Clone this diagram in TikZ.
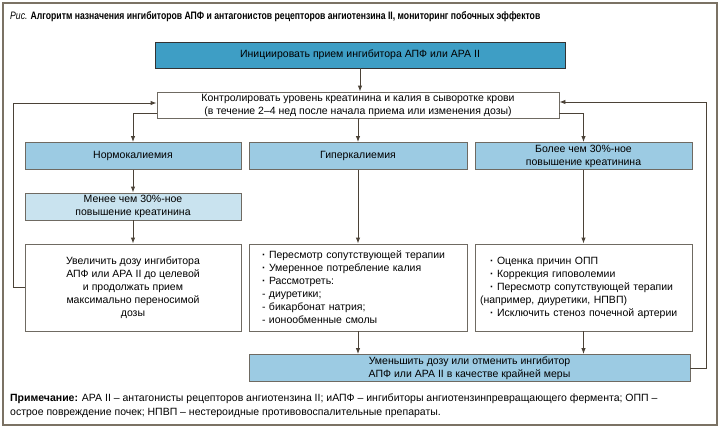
\documentclass[tikz,border=0pt]{standalone}
\usepackage{fontspec}
\setmainfont{Liberation Sans}
\newfontfamily\narrowfont{Liberation Sans}[FakeStretch=0.8]
\usetikzlibrary{arrows.meta}
\definecolor{framecol}{HTML}{7B7264}
\definecolor{linecol}{HTML}{4B4237}
\definecolor{boxcol}{HTML}{6F6A62}
\definecolor{initblue}{HTML}{3E9EC5}
\definecolor{midblue}{HTML}{9CCBE3}
\definecolor{paleblue}{HTML}{C9E3EF}

\begin{document}
\begin{tikzpicture}[x=1pt,y=-1pt,
	box/.style={draw=boxcol, line width=0.9pt, inner sep=0pt, minimum height=27pt, align=center, font=\fontsize{10.5}{13}\selectfont},
	arr/.style={draw=linecol, line width=0.9pt, -{Latex[length=6pt,width=4.5pt]}}]
	\useasboundingbox (0,0) rectangle (720,428);
	\draw [framecol, line width=2pt] (3,3) rectangle (717,425);
	% title and note
	\node (title) [anchor=west, inner sep=0pt, font=\narrowfont\fontsize{10.8}{13}\selectfont] at (10,17)
		{\textit{Рис.} \textbf{Алгоритм назначения ингибиторов АПФ и антагонистов рецепторов ангиотензина II, мониторинг побочных эффектов}};
	\node (note) [anchor=north west, inner sep=0pt, align=left, font=\fontsize{10.5}{13.5}\selectfont] at (10,394)
		{\textbf{Примечание:} АРА II -- антагонисты рецепторов ангиотензина II; иАПФ -- ингибиторы ангиотензинпревращающего фермента; ОПП --\\
		острое повреждение почек; НПВП -- нестероидные противовоспалительные препараты.};
	% boxes
	\node (init) [box, draw=black!80, fill=initblue, minimum width=410pt, minimum height=26pt] at (360,55) {Инициировать прием ингибитора АПФ или АРА II};
	\node (monitor) [box, fill=white, minimum width=402pt, minimum height=26pt] at (358,105)
		{Контролировать уровень креатинина и калия в сыворотке крови\\(в течение 2--4 нед после начала приема или изменения дозы)};
	\node (normo) [box, fill=midblue, minimum width=216pt] at (133,156) {Нормокалиемия};
	\node (hyper) [box, fill=midblue, minimum width=218pt] at (358,156) {Гиперкалиемия};
	\node (more) [box, fill=midblue, minimum width=217pt] at (583.5,156) {Более чем 30\%-ное\\повышение креатинина};
	\node (less) [box, fill=paleblue, minimum width=216pt] at (133,206.5) {Менее чем 30\%-ное\\повышение креатинина};
	\node (incr) [box, fill=white, minimum width=216pt, minimum height=87pt] at (133,287.5)
		{Увеличить дозу ингибитора\\АПФ или АРА II до целевой\\и продолжать прием\\максимально переносимой\\дозы};
	\node (hypert) [box, fill=white, align=left, text width=192pt, inner xsep=13pt, minimum height=87pt] at (358,287.5)
		{\textbf{·} Пересмотр сопутствующей терапии\\\textbf{·} Умеренное потребление калия\\\textbf{·} Рассмотреть:\\- диуретики;\\- бикарбонат натрия;\\- ионообменные смолы};
	\node (moret) [box, fill=white, align=left, text width=207pt, inner xsep=5pt, minimum height=87pt] at (583.5,287.5)
		{\hspace{10pt}\textbf{·} Оценка причин ОПП\\\hspace{10pt}\textbf{·} Коррекция гиповолемии\\\hspace{10pt}\textbf{·} Пересмотр сопутствующей терапии\\(например, диуретики, НПВП)\\\hspace{10pt}\textbf{·} Исключить стеноз почечной артерии};
	\node (reduce) [box, fill=midblue, minimum width=441pt] at (469.5,368)
		{Уменьшить дозу или отменить ингибитор\\АПФ или АРА II в качестве крайней меры};
	% connectors
	\coordinate (lbend) at (13,287);
	\coordinate (rbend) at (706,102);
	\draw [arr] (init.south) -- (init.south |- monitor.north);
	\draw [arr] ([yshift=-8pt]monitor.west) -| (normo.north);
	\draw [arr] (monitor) -- (hyper);
	\draw [arr] ([yshift=-8pt]monitor.east) -| (more.north);
	\draw [arr] (normo) -- (less);
	\draw [arr] (less) -- (incr);
	\draw [arr] (hyper) -- (hypert);
	\draw [arr] (more) -- (moret);
	\draw [arr] (hypert.south) -- (hypert.south |- reduce.north);
	\draw [arr] (moret.south) -- (moret.south |- reduce.north);
	\draw [arr] (incr.west) -- (incr.west -| lbend) |- ([yshift=2pt]monitor.west);
	\draw [arr] (reduce.east) -| (rbend) -- (rbend -| monitor.east);
\end{tikzpicture}
\end{document}
